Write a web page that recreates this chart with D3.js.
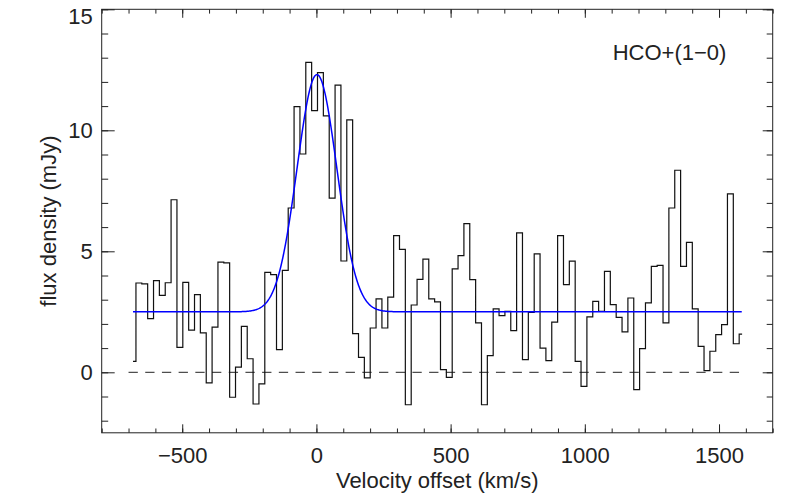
<!DOCTYPE html>
<html>
<head>
<meta charset="utf-8">
<script src="https://cdn.jsdelivr.net/npm/d3@7"></script>
<style>
  html, body { margin: 0; padding: 0; background: #fff; }
  svg { display: block; }
  text { font-family: "Liberation Sans", Arial, sans-serif; fill: #222; }
</style>
</head>
<body>
<svg id="chart" width="788" height="498"></svg>
<script>
// ---- data ----
const velocity = [
  -683.3, -661.5, -639.7, -617.8, -596.0, -574.2, -552.4, -530.6, -508.7, -486.9,
  -465.1, -443.3, -421.5, -399.6, -377.8, -356.0, -334.2, -312.4, -290.5, -268.7,
  -246.9, -225.1, -203.3, -181.4, -159.6, -137.8, -116.0, -94.2, -72.3, -50.5,
  -28.7, -6.9, 14.9, 36.8, 58.6, 80.4, 102.2, 124.0, 145.9, 167.7,
  189.5, 211.3, 233.1, 255.0, 276.8, 298.6, 320.4, 342.2, 364.1, 385.9,
  407.7, 429.5, 451.3, 473.2, 495.0, 516.8, 538.6, 560.4, 582.3, 604.1,
  625.9, 647.7, 669.5, 691.4, 713.2, 735.0, 756.8, 778.6, 800.5, 822.3,
  844.1, 865.9, 887.7, 909.6, 931.4, 953.2, 975.0, 996.8, 1018.7, 1040.5,
  1062.3, 1084.1, 1105.9, 1127.8, 1149.6, 1171.4, 1193.2, 1215.0, 1236.9, 1258.7,
  1280.5, 1302.3, 1324.1, 1346.0, 1367.8, 1389.6, 1411.4, 1433.2, 1455.1, 1476.9,
  1498.7, 1520.5, 1542.3, 1564.2, 1586.0
];
const flux = [
  0.45, 3.69, 3.65, 2.22, 3.79, 3.18, 3.70, 7.13, 1.03, 3.72,
  1.74, 3.21, 1.63, -0.44, 1.87, 4.55, 4.52, -1.03, 0.21, 1.90,
  0.56, -1.31, -0.48, 4.13, 4.04, 0.94, 4.21, 6.79, 10.98, 9.02,
  12.81, 10.81, 12.38, 10.60, 7.20, 11.87, 4.60, 10.43, 1.60, 0.62,
  -0.23, 1.83, 3.03, 1.83, 3.11, 5.65, 5.08, -1.34, 2.78, 3.84,
  4.68, 3.03, 2.91, 0.11, -0.21, 4.27, 4.82, 6.14, 3.83, 2.04,
  -1.34, 0.69, 2.62, 2.34, 2.52, 1.72, 5.76, 0.52, 2.48, 4.89,
  1.00, 0.48, 2.07, 5.65, 3.62, 4.59, 0.45, -0.58, 2.29, 2.93,
  2.52, 4.17, 2.80, 2.27, 1.67, 3.07, -0.72, 0.98, 2.87, 4.38,
  4.42, 2.04, 6.79, 8.35, 4.38, 5.37, 2.62, 1.07, 0.07, 0.87,
  1.56, 1.97, 7.37, 1.18, 1.58
];
// Gaussian fit parameters: baseline, amplitude, centre, sigma
const fitBaseline = 2.5;
const fitAmplitude = 9.8;
const fitCenter = 2;
const fitSigma = 74;

const xMajorTicks = [-500, 0, 500, 1000, 1500];
const yMajorTicks = [0, 5, 10, 15];
const xLabel = "Velocity offset (km/s)";
const yLabel = "flux density (mJy)";
const lineLabel = "HCO+(1\u22120)";

// ---- layout ----
const svg = d3.select("#chart");
const L = 101.7, R = 772.7, T = 9.3, B = 432.8;

const x = d3.scaleLinear().domain([-800, 1700]).range([L, R]);
const y = d3.scaleLinear().domain([-2.5, 15]).range([B, T]);

const xMinor = d3.range(-800, 1701, 100);
const yMinor = d3.range(-2, 15.01, 1);

const axisColor = "#222";

function styleAxis(g) {
  g.select(".domain").remove();
  g.selectAll("line").attr("stroke", axisColor).attr("stroke-width", 1);
  g.selectAll("text").style("font-family", '"Liberation Sans", Arial, sans-serif')
    .style("font-size", "22px").attr("fill", "#222");
}

// minor ticks
svg.append("g").attr("transform", `translate(0,${B})`)
  .call(d3.axisBottom(x).tickValues(xMinor).tickSizeInner(-4.3).tickSizeOuter(0).tickFormat(""))
  .call(styleAxis);
svg.append("g").attr("transform", `translate(0,${T})`)
  .call(d3.axisTop(x).tickValues(xMinor).tickSizeInner(-4.3).tickSizeOuter(0).tickFormat(""))
  .call(styleAxis);
svg.append("g").attr("transform", `translate(${L},0)`)
  .call(d3.axisLeft(y).tickValues(yMinor).tickSizeInner(-6.5).tickSizeOuter(0).tickFormat(""))
  .call(styleAxis);
svg.append("g").attr("transform", `translate(${R},0)`)
  .call(d3.axisRight(y).tickValues(yMinor).tickSizeInner(-6).tickSizeOuter(0).tickFormat(""))
  .call(styleAxis);

// major ticks
svg.append("g").attr("transform", `translate(0,${B})`)
  .call(d3.axisBottom(x).tickValues(xMajorTicks).tickSizeInner(-8.5).tickSizeOuter(0).tickPadding(15).tickFormat(d3.format("d")))
  .call(styleAxis);
svg.append("g").attr("transform", `translate(0,${T})`)
  .call(d3.axisTop(x).tickValues(xMajorTicks).tickSizeInner(-8.5).tickSizeOuter(0).tickFormat(""))
  .call(styleAxis);
const yAxisG = svg.append("g").attr("transform", `translate(${L},0)`)
  .call(d3.axisLeft(y).tickValues(yMajorTicks).tickSizeInner(-13).tickSizeOuter(0).tickPadding(9).tickFormat(d3.format("d")))
  .call(styleAxis);
// keep the top label inside the picture, as in the reference
yAxisG.selectAll(".tick").filter(d => d === 15).select("text").attr("y", 7.5);
svg.append("g").attr("transform", `translate(${R},0)`)
  .call(d3.axisRight(y).tickValues(yMajorTicks).tickSizeInner(-10).tickSizeOuter(0).tickFormat(""))
  .call(styleAxis);

// frame
svg.append("rect").attr("x", L).attr("y", T).attr("width", R - L).attr("height", B - T)
  .attr("fill", "none").attr("stroke", axisColor).attr("stroke-width", 1);

// zero line (dashed)
svg.append("line")
  .attr("x1", x(-700)).attr("x2", x(1600)).attr("y1", y(0)).attr("y2", y(0))
  .attr("stroke", "#222").attr("stroke-width", 1).attr("stroke-dasharray", "9.3,7.4");

// histogram spectrum
const data = velocity.map((v, i) => [v, flux[i]]);
const stepLine = d3.line().x(d => x(d[0])).y(d => y(d[1])).curve(d3.curveStep);
svg.append("path").datum(data).attr("d", stepLine)
  .attr("fill", "none").attr("stroke", "#111").attr("stroke-width", 1.2);

// gaussian fit
const vFit = d3.range(velocity[0], velocity[velocity.length - 1] + 0.01, 2);
const fit = vFit.map(v => [v, fitBaseline + fitAmplitude * Math.exp(-((v - fitCenter) ** 2) / (2 * fitSigma * fitSigma))]);
svg.append("path").datum(fit)
  .attr("d", d3.line().x(d => x(d[0])).y(d => y(d[1])))
  .attr("fill", "none").attr("stroke", "#0000ff").attr("stroke-width", 1.5);

// labels
svg.append("text").attr("x", (L + R) / 2).attr("y", 488).attr("text-anchor", "middle")
  .style("font-size", "22px").text(xLabel);
svg.append("text").attr("transform", `translate(56,${(T + B) / 2}) rotate(-90)`)
  .attr("text-anchor", "middle").style("font-size", "22px").text(yLabel);
svg.append("text").attr("x", 612.7).attr("y", 60).style("font-size", "22px").text(lineLabel);
</script>
</body>
</html>
